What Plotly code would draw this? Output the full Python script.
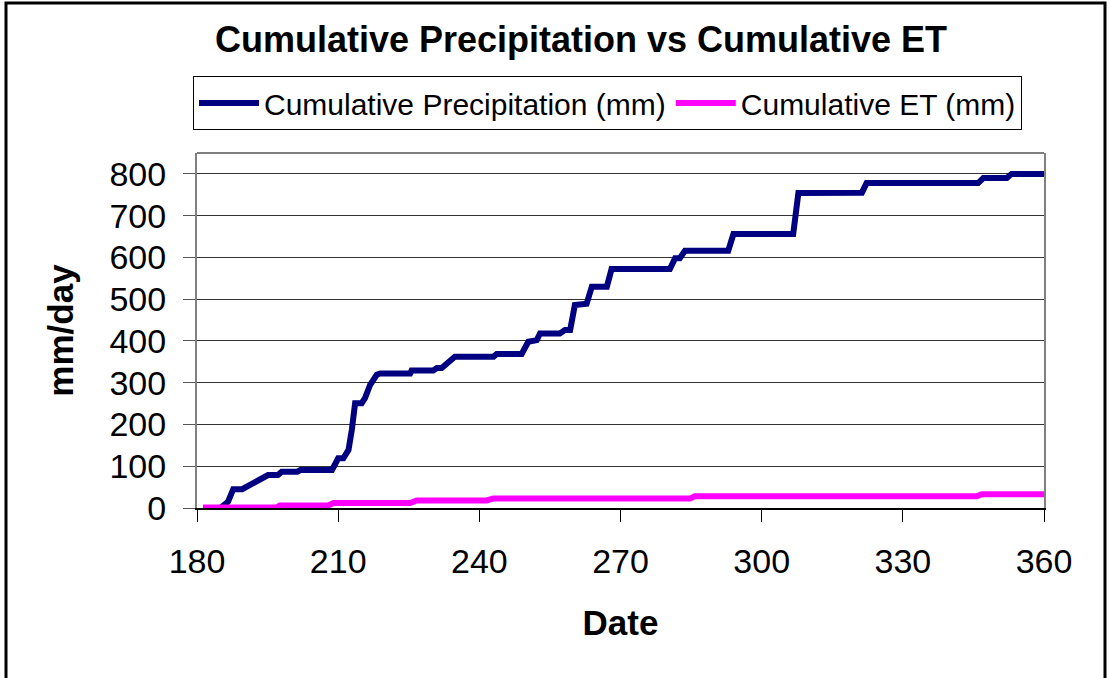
import plotly.graph_objects as go

# ---- data ----
series_names = ["Cumulative Precipitation (mm)", "Cumulative ET (mm)"]

precip_day = [181.3, 184.9, 186.6, 187.7, 189.6, 195.1, 197.2, 198.0, 201.3, 202.0,
              208.7, 210.0, 211.1, 212.2, 212.9, 213.6, 215.0, 215.7, 216.8, 218.2,
              218.9, 225.3, 225.6, 230.2, 231.0, 232.0, 234.8, 243.0, 243.7, 249.0,
              250.4, 251.5, 252.2, 252.9, 257.1, 258.2, 259.3, 260.3, 262.8, 263.9,
              267.1, 268.1, 280.5, 281.6, 282.6, 283.7, 292.9, 294.0, 306.7, 307.8,
              321.3, 322.3, 346.0, 347.1, 352.1, 353.1, 360.0]
precip_mm = [0, 0, 15, 45, 45, 79, 79, 87, 87, 91,
             91, 119, 119, 139, 187, 251, 251, 263, 295, 319,
             322, 322, 329, 329, 335, 335, 362, 362, 369, 369,
             398, 402, 402, 418, 418, 426, 426, 486, 489, 530,
             530, 572, 572, 598, 598, 616, 616, 656, 656, 754,
             755, 778, 778, 790, 790, 800, 800]

et_day = [181.3, 196.9, 197.6, 207.9, 209.0, 225.3, 226.7, 241.6, 243.0,
          284.8, 285.8, 345.7, 346.8, 360.0]
et_mm = [1, 1, 6, 6, 12, 12, 18, 18, 23, 23, 28, 28, 33, 33]

x_ticks = [180, 210, 240, 270, 300, 330, 360]
y_ticks = [0, 100, 200, 300, 400, 500, 600, 700, 800]

title_text = "Cumulative Precipitation vs Cumulative ET"
x_title = "Date"
y_title = "mm/day"

colors = ["#000080", "#FF00FF"]

FONT = "Liberation Sans, Arial, sans-serif"
W, H = 1110, 678
L, R, T, B = 197, 1044, 153, 508  # plot area in pixels


def px2paper_x(px):
    return (px - L) / (R - L)


def px2paper_y(py):
    return (B - py) / (B - T)


fig = go.Figure()
fig.add_trace(go.Scatter(x=precip_day, y=precip_mm, mode="lines", name=series_names[0],
                         line=dict(color=colors[0], width=6)))
fig.add_trace(go.Scatter(x=et_day, y=et_mm, mode="lines", name=series_names[1],
                         line=dict(color=colors[1], width=6)))

fig.update_layout(
    width=W, height=H,
    margin=dict(l=L, r=W - R, t=T, b=H - B, pad=0),
    paper_bgcolor="white", plot_bgcolor="white",
    font=dict(family=FONT, color="black"),
    title=dict(text="<b>" + title_text + "</b>", font=dict(size=36, family=FONT, color="black"),
               x=581 / W, xanchor="center", y=1 - 39 / H, yanchor="middle"),
    showlegend=True,
    legend=dict(orientation="h", x=px2paper_x(193), y=px2paper_y(76), xanchor="left", yanchor="top",
                font=dict(size=30, family=FONT, color="black"),
                bordercolor="black", borderwidth=1, bgcolor="white",
                itemwidth=60, tracegroupgap=0),
    xaxis=dict(range=[180, 360], tickvals=x_ticks, ticktext=[str(v) for v in x_ticks],
               showgrid=False, zeroline=False,
               showline=True, linecolor="black", linewidth=2,
               ticks="outside", ticklen=12, tickwidth=1, tickcolor="black",
               tickfont=dict(size=34, family=FONT, color="black"),
               ticklabelstandoff=10,
               title=dict(text="<b>" + x_title + "</b>", font=dict(size=35, family=FONT, color="black"),
                          standoff=32),
               automargin=False),
    yaxis=dict(range=[0, 850], tickvals=y_ticks, ticktext=[str(v) for v in y_ticks],
               showgrid=True, gridcolor="#333333", gridwidth=1, zeroline=False,
               showline=True, linecolor="#808080", linewidth=2, mirror=True,
               ticks="outside", ticklen=12, tickwidth=1, tickcolor="#555555",
               tickfont=dict(size=34, family=FONT, color="black"),
               ticklabelstandoff=10,
               title=dict(text="<b>" + y_title + "</b>", font=dict(size=35, family=FONT, color="black"),
                          standoff=25),
               automargin=False),
    shapes=[
        # top frame of plot area
        dict(type="line", xref="paper", yref="paper", x0=0, x1=1, y0=1, y1=1,
             line=dict(color="#808080", width=2), layer="above"),
        # outer chart border
        dict(type="rect", xref="paper", yref="paper",
             x0=px2paper_x(6), x1=px2paper_x(1105), y0=px2paper_y(720), y1=px2paper_y(3),
             line=dict(color="black", width=3), fillcolor="rgba(0,0,0,0)", layer="above"),
    ],
)

fig.write_html("out.html")
